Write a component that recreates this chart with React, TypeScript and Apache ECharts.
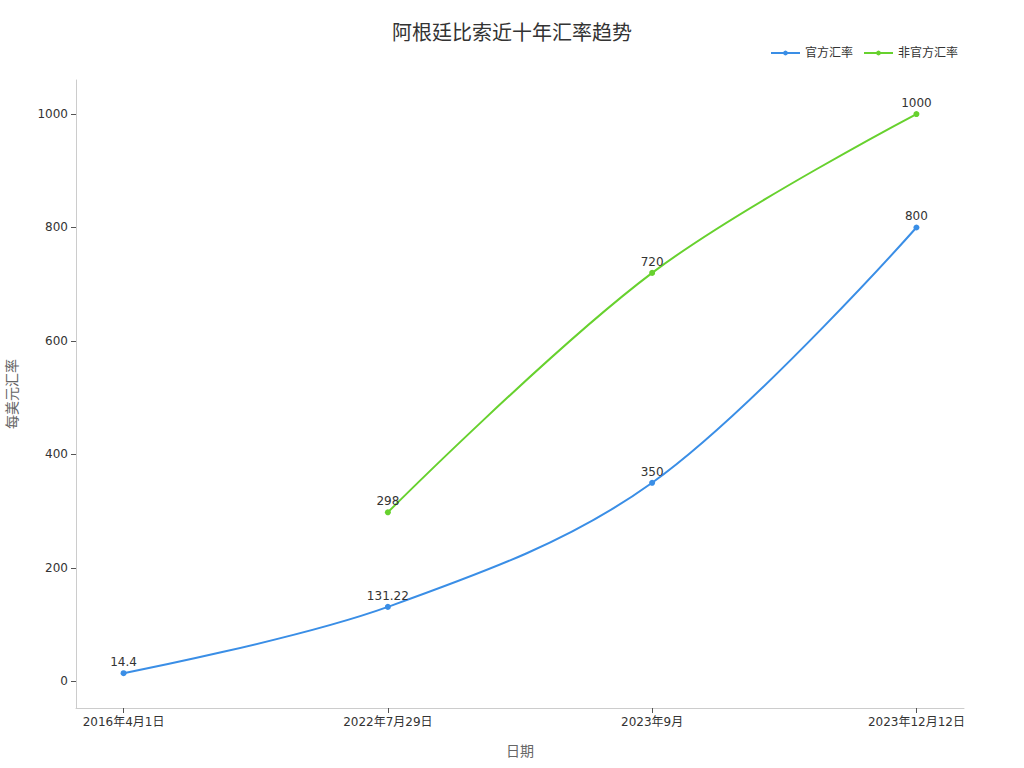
import React, { useEffect, useRef } from "react";
import * as echarts from "echarts";

const categories = ["2016年4月1日", "2022年7月29日", "2023年9月", "2023年12月12日"];
const officialRates = [14.4, 131.22, 350, 800];
const parallelRates: (number | null)[] = [null, 298, 720, 1000];
const yTicks = [0, 200, 400, 600, 800, 1000];

const FONT = "DejaVu Sans, Noto Sans CJK SC, sans-serif";

export default function App() {
  const ref = useRef<HTMLDivElement>(null);
  useEffect(() => {
    document.body.style.margin = "0";
    if (!ref.current) return;
    const chart = echarts.init(ref.current, undefined, { renderer: "svg" });
    const toPairs = (arr: (number | null)[]) =>
      arr.map((v, i) => (v == null ? null : [i, v])).filter((d) => d != null);
    const xIdx = categories.map((_, i) => i);
    chart.setOption({
      animation: false,
      textStyle: { fontFamily: FONT },
      title: {
        text: "阿根廷比索近十年汇率趋势",
        left: "center",
        top: 18,
        textStyle: { fontSize: 20, fontWeight: "normal", color: "#333", fontFamily: FONT },
      },
      legend: {
        right: 61,
        top: 42,
        itemWidth: 29,
        itemHeight: 6,
        itemGap: 10,
        textStyle: { fontSize: 12, color: "#333", fontFamily: FONT },
        data: ["官方汇率", "非官方汇率"],
      },
      grid: { left: 76, right: 60, top: 80, bottom: 60, containLabel: false, outerBoundsMode: "none" },
      xAxis: {
        type: "value",
        min: -0.18,
        max: 3.18,
        name: "日期",
        nameLocation: "middle",
        nameGap: 36,
        nameTextStyle: { fontSize: 14, color: "#666", fontFamily: FONT },
        splitLine: { show: false },
        axisLine: { show: true, onZero: false, lineStyle: { color: "#ccc" } },
        axisTick: { show: true, customValues: xIdx, length: 5, lineStyle: { color: "#555" } },
        axisLabel: {
          customValues: xIdx,
          formatter: (v: number) => categories[Math.round(v)] ?? "",
          fontSize: 12,
          color: "#333",
          margin: 8,
        },
      },
      yAxis: {
        type: "value",
        min: -47,
        max: 1060,
        name: "每美元汇率",
        nameLocation: "middle",
        nameGap: 57,
        nameTextStyle: { fontSize: 14, color: "#666", fontFamily: FONT },
        splitLine: { show: false },
        axisLine: { show: true, onZero: false, lineStyle: { color: "#ccc" } },
        axisTick: { show: true, customValues: yTicks, length: 5, lineStyle: { color: "#555" } },
        axisLabel: {
          customValues: yTicks,
          formatter: (v: number) => String(v),
          fontSize: 12,
          color: "#333",
          margin: 8,
        },
      },
      series: [
        {
          name: "官方汇率",
          type: "line",
          smooth: 0.35,
          symbol: "circle",
          symbolSize: 6,
          data: toPairs(officialRates),
          itemStyle: { color: "#3a8ee6" },
          lineStyle: { width: 2, color: "#3a8ee6" },
          label: {
            show: true,
            position: "top",
            distance: 2,
            fontSize: 12,
            color: "#333",
            formatter: (p: any) => String(p.value[1]),
          },
        },
        {
          name: "非官方汇率",
          type: "line",
          smooth: 0.35,
          symbol: "circle",
          symbolSize: 6,
          data: toPairs(parallelRates),
          itemStyle: { color: "#67d12e" },
          lineStyle: { width: 2, color: "#67d12e" },
          label: {
            show: true,
            position: "top",
            distance: 2,
            fontSize: 12,
            color: "#333",
            formatter: (p: any) => String(p.value[1]),
          },
        },
      ],
    });
    return () => chart.dispose();
  }, []);
  return <div ref={ref} style={{ width: 1024, height: 768 }} />;
}
